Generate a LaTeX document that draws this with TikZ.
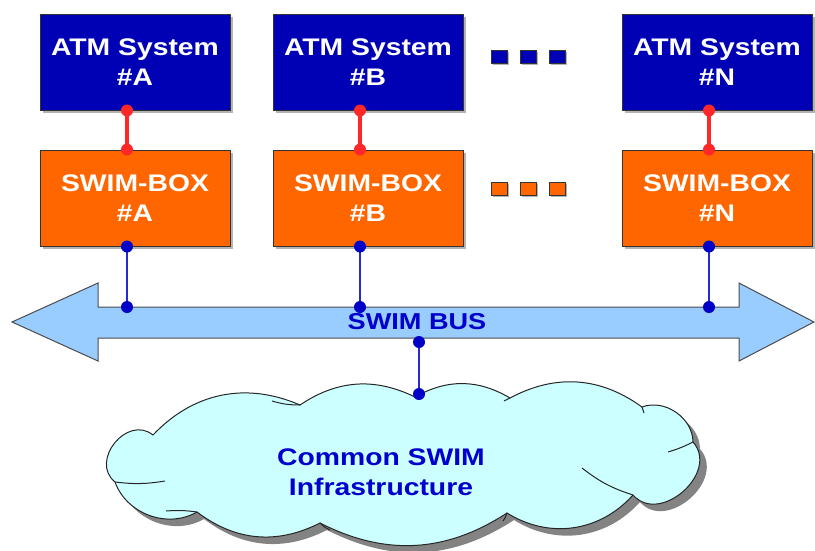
\documentclass[tikz,border=0pt]{standalone}
\usepackage{fontspec}
\setmainfont{Liberation Sans}[FakeStretch=1.18]
\usetikzlibrary{shadows}
\definecolor{atmblue}{RGB}{0,0,180}
\definecolor{swimorange}{RGB}{255,102,0}
\definecolor{busfill}{RGB}{153,204,255}
\definecolor{cloudfill}{RGB}{204,255,255}
\definecolor{txtblue}{RGB}{0,0,204}
\definecolor{linkred}{RGB}{255,40,40}
\definecolor{linkblue}{RGB}{40,40,210}
\definecolor{dotblue}{RGB}{0,0,200}
\begin{document}
\begin{tikzpicture}[x=1pt,y=-1pt,
  boxbase/.style={draw=black!80, line width=1pt, minimum width=190pt, minimum height=96pt,
    align=center, text=white, font=\bfseries\fontsize{24}{30}\selectfont,
    drop shadow={shadow xshift=3pt, shadow yshift=-3pt, fill=black!50, opacity=0.6}},
  atmbox/.style={boxbase, fill=atmblue},
  swimbox/.style={boxbase, fill=swimorange},
  sq/.style={draw=black!80, line width=0.8pt, minimum width=16pt, minimum height=13pt, inner sep=0pt,
    drop shadow={shadow xshift=1.5pt, shadow yshift=-1.5pt, fill=black!50, opacity=0.6}},
  redlink/.style={draw=linkred, line width=3.2pt},
  bluelink/.style={draw=linkblue, line width=2.8pt},
  busstyle/.style={fill=busfill, draw=black!70, line width=1pt},
  cloudline/.style={draw=black!85, line width=1pt},
  bluetext/.style={text=txtblue, font=\bfseries\fontsize{24}{30}\selectfont, align=center}
]
\useasboundingbox (0,0) rectangle (815,550);

% top row
\node[atmbox] (atmA) at (135,62) {ATM System\\\#A};
\node[atmbox] (atmB) at (368,62) {ATM System\\\#B};
\node[atmbox] (atmN) at (717,62) {ATM System\\\#N};
\node[swimbox] (swA) at (135,198) {SWIM-BOX\\\#A};
\node[swimbox] (swB) at (368,198) {SWIM-BOX\\\#B};
\node[swimbox] (swN) at (717,198) {SWIM-BOX\\\#N};

% ellipsis squares
\foreach \x/\i in {499/1,528.5/2,557/3}{
  \node[sq, fill=atmblue] (ad\i) at (\x,56.5) {};
  \node[sq, fill=swimorange] (sd\i) at (\x,189) {};
}

% bus
\draw[busstyle] (12,322) -- (98,283) -- (98,307) -- (739,307) -- (739,283) -- (814,322)
  -- (739,361) -- (739,338) -- (98,338) -- (98,361) -- cycle;
\coordinate (bustop) at (0,307);
\coordinate (busbot) at (419,342);
\node[bluetext, font=\bfseries\fontsize{23}{26}\selectfont] (bus) at (417,322) {SWIM BUS};

% cloud
\def\cloudpath{(115,482) to[bend left=90, looseness=1.4] (153,435)
  to[bend left=35] (300,405) to[bend left=30] (415,397) to[bend left=30] (510,398)
  to[bend left=32] (642,407) to[bend left=55] (693,442)
  to[bend left=90, looseness=1.3] (633,495) to[bend left=40] (507,513)
  to[bend left=30] (320,523) to[bend left=32] (197,512) to[bend left=50] (115,482) -- cycle}
\fill[black!65, opacity=0.75, xshift=7pt, yshift=-7pt] \cloudpath;
\filldraw[cloudline, fill=cloudfill] \cloudpath;
\draw[cloudline] (115,482) to[bend right=8] (165,481);
\draw[cloudline] (300,405) to[bend left=8] (272,401);
\draw[cloudline] (197,512) to[bend right=6] (166,511);
\draw[cloudline] (633,495) to[bend left=10] (582,468);
\draw[cloudline] (693,442) to[bend left=5] (668,452);
\draw[cloudline] (320,523) to[bend right=10] (330,530);
\draw[cloudline] (507,513) to[bend left=10] (503,521);
\draw[cloudline] (642,407) to[bend left=10] (644,413);
\draw[cloudline] (510,398) to[bend right=10] (504,401);
\coordinate (ctop) at (419,394);
\node[bluetext] (ctext) at (381,472) {Common SWIM\\Infrastructure};

% links
\foreach \n in {A,B,N}{
  \draw[redlink] ([xshift=-8pt]atm\n.south) coordinate (rt\n) -- ([xshift=-8pt]sw\n.north) coordinate (rb\n);
  \fill[linkred] (rt\n) circle (6pt) (rb\n) circle (6pt);
  \draw[bluelink] ([xshift=-8pt]sw\n.south) coordinate (bt\n) -- (bt\n |- bustop) coordinate (bb\n);
  \fill[dotblue] (bt\n) circle (6pt) (bb\n) circle (6pt);
}

% bus to cloud
\draw[bluelink] (busbot) -- (ctop);
\fill[dotblue] (busbot) circle (6pt) (ctop) circle (6pt);
\end{tikzpicture}
\end{document}
